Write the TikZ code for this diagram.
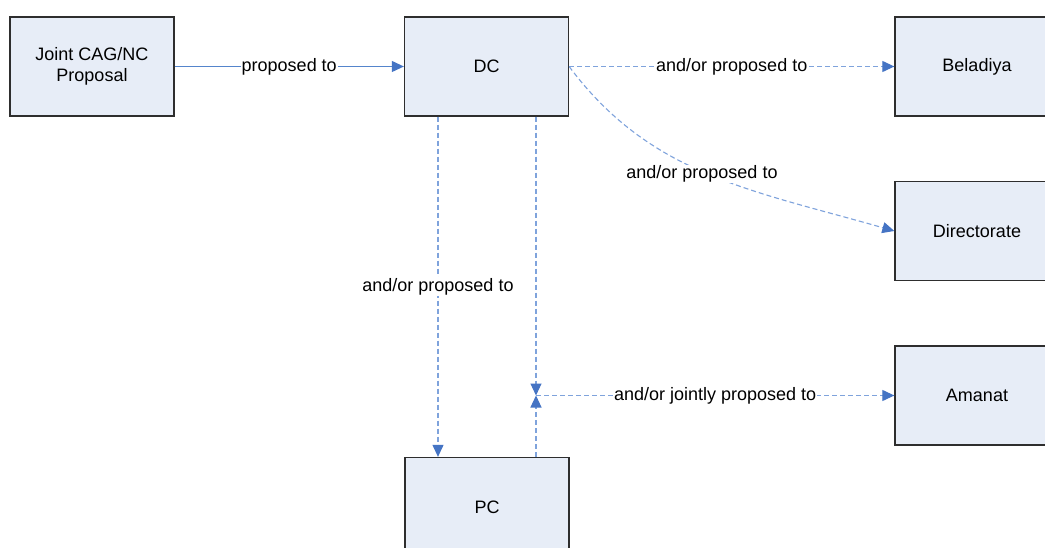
\documentclass[tikz,border=0pt]{standalone}
\usepackage{fontspec}
\setmainfont{Liberation Sans}
\usetikzlibrary{arrows.meta}
\definecolor{boxfill}{HTML}{E7EDF7}
\definecolor{boxline}{HTML}{2E2E2E}
\definecolor{tipblue}{HTML}{4574C4}
\definecolor{solidblue}{HTML}{5585CC}
\definecolor{dashblue}{HTML}{7FA3DC}
\tikzset{
  unit/.style={draw=boxline, fill=boxfill, line width=1.3pt,
    minimum width=164pt, minimum height=99pt, inner sep=0pt,
    align=center, font=\fontsize{18}{21.5}\selectfont},
  flow/.style={draw=solidblue, line width=1.1pt,
    -{Triangle[length=12pt,width=11pt,fill=tipblue,color=tipblue]}},
  maybeflow/.style={draw=dashblue, line width=1.1pt, dash pattern=on 5pt off 3pt,
    -{Triangle[length=12pt,width=11pt,fill=tipblue,color=tipblue]}},
  lbl/.style={fill=white, inner sep=1pt, font=\fontsize{18}{21.5}\selectfont}
}
\begin{document}
\begin{tikzpicture}[x=1pt,y=-1pt]
\useasboundingbox (0,0) rectangle (1045,548);
\clip (0,0) rectangle (1045,548);
\fill[white] (0,0) rectangle (1045,548);

% units
\node[unit] (joint) at (92,66.5) {Joint CAG/NC\\Proposal};
\node[unit] (dc)    at (486.5,66.5) {DC};
\node[unit] (bel)   at (977,66.5) {Beladiya};
\node[unit] (dir)   at (977,231) {Directorate};
\node[unit] (ama)   at (977,395.5) {Amanat};
\node[unit] (pc)    at (487,507) {PC};

% helper points for the vertical links
\coordinate (lx) at (438,0);
\coordinate (m)  at (536,395.5);

% links
\draw[flow] (joint) -- node[lbl] {proposed to} (dc);
\draw[maybeflow] (dc) -- node[lbl] {and/or proposed to} (bel);
\draw[maybeflow] (dc.east) .. controls (650,175) and (751,190) .. (dir.west);
\node[lbl] at (702,174) {and/or proposed to};
\draw[maybeflow] (dc.south -| lx) -- node[lbl] {and/or proposed to} (pc.north -| lx);
\draw[maybeflow] (dc.south -| m) -- (m);
\draw[maybeflow] (pc.north -| m) -- (m);
\draw[maybeflow] (m) -- node[lbl] {and/or jointly proposed to} (ama);
\end{tikzpicture}
\end{document}
